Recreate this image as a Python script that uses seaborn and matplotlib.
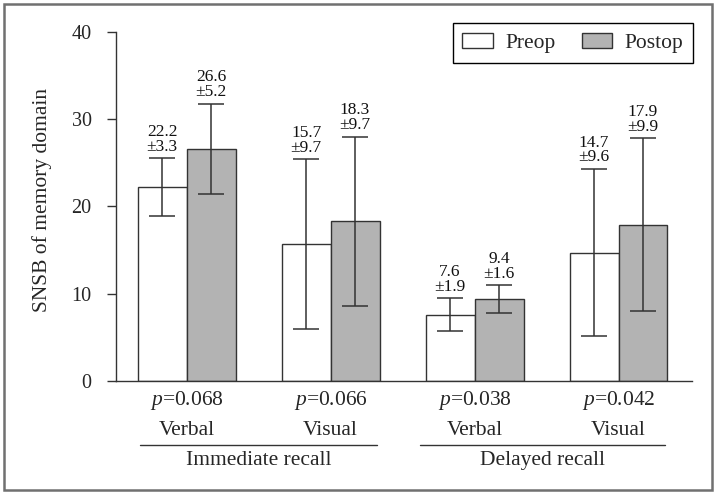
import matplotlib
matplotlib.use('Agg')
import matplotlib.pyplot as plt
import seaborn as sns
import pandas as pd
from matplotlib.patches import Patch, Rectangle
from matplotlib.lines import Line2D

# data
tasks = ['Immediate Verbal', 'Immediate Visual', 'Delayed Verbal', 'Delayed Visual']
task_names = ['Verbal', 'Visual', 'Verbal', 'Visual']
p_values = ['0.068', '0.066', '0.038', '0.042']
groups = ['Immediate recall', 'Delayed recall']
preop_mean = [22.2, 15.7, 7.6, 14.7]
preop_sd = [3.3, 9.7, 1.9, 9.6]
postop_mean = [26.6, 18.3, 9.4, 17.9]
postop_sd = [5.2, 9.7, 1.6, 9.9]
times = ['Preop', 'Postop']

sns.set_style('ticks')
plt.rcParams['font.family'] = ['Liberation Serif', 'DejaVu Serif']
plt.rcParams['mathtext.fontset'] = 'custom'
plt.rcParams['mathtext.rm'] = 'Liberation Serif'
plt.rcParams['mathtext.it'] = 'Liberation Serif:italic'

df = pd.DataFrame({
    'task': tasks * 2,
    'time': ['Preop'] * 4 + ['Postop'] * 4,
    'score': preop_mean + postop_mean,
})

edge = '#333333'
fill = {'Preop': 'white', 'Postop': '#b3b3b3'}

fig = plt.figure(figsize=(7.17, 4.96), dpi=100)
ax = fig.add_axes([0.1618, 0.2319, 0.8033, 0.7036])

sns.barplot(data=df, x='task', y='score', hue='time', hue_order=times,
            palette=fill, edgecolor=edge, linewidth=1, width=0.68,
            errorbar=None, legend=False, ax=ax)

# error bars + value labels
for cont, means, sds in zip(ax.containers, [preop_mean, postop_mean], [preop_sd, postop_sd]):
    xs = [b.get_x() + b.get_width() / 2 for b in cont]
    ax.errorbar(xs, means, yerr=sds, fmt='none', ecolor=edge, elinewidth=1.1,
                capsize=9.4, capthick=1.1, zorder=5)
    for x, m, s in zip(xs, means, sds):
        ax.annotate(f'{m}\n±{s}', xy=(x, m + s), xytext=(0, 2.5), textcoords='offset points',
                    ha='center', va='bottom', fontsize=12.5, linespacing=0.9, color='#111111')

ax.set_ylim(0, 40)
ax.set_xlim(-0.49, 3.51)
ax.set_yticks([0, 10, 20, 30, 40])
ax.tick_params(axis='y', length=6.5, width=1, color=edge, pad=11, labelsize=14.5)
ax.tick_params(axis='x', length=0)
ax.set_xticks(range(4))
ax.set_xticklabels([])
ax.set_xlabel('')
ax.set_ylabel('SNSB of memory domain', fontsize=15.5)
ax.yaxis.set_label_coords(-0.112, 0.52)
for side in ['top', 'right']:
    ax.spines[side].set_visible(False)
for side in ['left', 'bottom']:
    ax.spines[side].set_color(edge)
    ax.spines[side].set_linewidth(1)

# x labels: p value, task, group line and group name
for i, (pv, name) in enumerate(zip(p_values, task_names)):
    ax.annotate(r'$\mathit{p}$=' + pv, xy=(i, 0), xycoords=('data', 'axes fraction'),
                xytext=(0, -14.4), textcoords='offset points', ha='center', va='center', fontsize=15.5)
    ax.annotate(name, xy=(i, 0), xycoords=('data', 'axes fraction'),
                xytext=(0, -35.3), textcoords='offset points', ha='center', va='center', fontsize=15.5)

trans = ax.get_xaxis_transform()
for (x0, x1), label in zip([(-0.32, 1.32), (1.62, 3.32)], groups):
    ax.add_line(Line2D([x0, x1], [-0.183, -0.183], transform=trans, color=edge,
                       lw=1, clip_on=False))
    ax.annotate(label, xy=((x0 + x1) / 2, 0), xycoords=('data', 'axes fraction'),
                xytext=(0, -57.6), textcoords='offset points', ha='center', va='center', fontsize=15.5)

handles = [Patch(facecolor=fill[t], edgecolor=edge, linewidth=1) for t in times]
leg = ax.legend(handles, times, loc='upper right', bbox_to_anchor=(1.002, 1.026), ncol=2,
                fontsize=15.5, frameon=True, fancybox=False, framealpha=1, edgecolor='black',
                handlelength=1.4, handleheight=0.75, handletextpad=0.6, columnspacing=1.2,
                borderpad=0.45, borderaxespad=0)
leg.get_frame().set_linewidth(1)

# outer frame round the figure
fig.patches.append(Rectangle((0.0056, 0.0121), 0.9874, 0.98, transform=fig.transFigure,
                             fill=False, edgecolor='#707070', linewidth=1.8))

fig.savefig('out.png', dpi=100)
